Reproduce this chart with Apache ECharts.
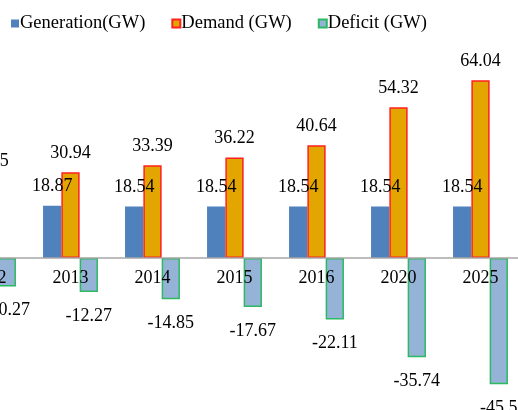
<!DOCTYPE html>
<html>
<head>
<meta charset="utf-8">
<style>
  html, body { margin: 0; padding: 0; background: #fff; }
  #chart { width: 518px; height: 410px; }
</style>
<script src="https://cdn.jsdelivr.net/npm/echarts@6/dist/echarts.min.js"></script>
</head>
<body>
<div id="chart"></div>
<script>
// Power generation vs. demand, with the resulting deficit (GW)
const categories = ['2012', '2013', '2014', '2015', '2016', '2020', '2025'];
const generation = [17.58, 18.87, 18.54, 18.54, 18.54, 18.54, 18.54];
const demand = [27.85, 30.94, 33.39, 36.22, 40.64, 54.32, 64.04];
const deficit = [-10.27, -12.27, -14.85, -17.67, -22.11, -35.74, -45.5];

const serif = "'Liberation Serif', 'Times New Roman', serif";
const labelText = { fontFamily: serif, fontSize: 18, color: '#000' };

// value range and plot box; the category axis sits on the zero line
const yMin = -50;
const yMax = 80;
const gridTop = 36;
const gridBottom = 13.2;
const plotHeight = 410 - gridTop - gridBottom;
const zeroFromBottom = plotHeight * (0 - yMin) / (yMax - yMin);

const chart = echarts.init(document.getElementById('chart'), null, { renderer: 'canvas' });

chart.setOption({
  animation: false,
  backgroundColor: '#fff',
  textStyle: { fontFamily: serif },
  legend: {
    left: 6,
    top: 9,
    itemWidth: 8,
    itemHeight: 8,
    itemGap: 26,
    icon: 'rect',
    textStyle: { fontFamily: serif, fontSize: 18.5, color: '#000', padding: [0, 0, 0, -4] },
    data: ['Generation(GW)', 'Demand (GW)', 'Deficit (GW)']
  },
  grid: {
    left: -52.5,
    right: -3.5,
    top: gridTop,
    bottom: gridBottom,
    containLabel: false,
    outerBoundsMode: 'none'
  },
  xAxis: {
    type: 'category',
    data: categories,
    position: 'bottom',
    offset: -zeroFromBottom,
    z: 5,
    axisLine: { show: true, onZero: false, lineStyle: { color: '#A6A6A6', width: 1.5 } },
    axisTick: { show: false },
    axisLabel: { fontFamily: serif, fontSize: 18, color: '#000', margin: 11, interval: 0 },
    splitLine: { show: false }
  },
  yAxis: {
    type: 'value',
    min: yMin,
    max: yMax,
    axisLine: { show: false },
    axisTick: { show: false },
    axisLabel: { show: false },
    splitLine: { show: false }
  },
  series: [
    {
      name: 'Generation(GW)',
      type: 'bar',
      data: generation,
      barWidth: 18.3,
      barGap: '0%',
      itemStyle: { color: '#4F81BD' },
      label: { show: true, position: 'top', distance: 10, ...labelText }
    },
    {
      name: 'Demand (GW)',
      type: 'bar',
      data: demand,
      barWidth: 18.3,
      barGap: '0%',
      itemStyle: { color: '#E3A600', borderColor: '#FF2020', borderWidth: 1.5 },
      label: { show: true, position: 'top', distance: 10, ...labelText }
    },
    {
      name: 'Deficit (GW)',
      type: 'bar',
      data: deficit,
      barWidth: 18.3,
      barGap: '0%',
      itemStyle: { color: '#95B3D7', borderColor: '#2DB862', borderWidth: 1.5 },
      label: { show: true, position: 'bottom', distance: 15, ...labelText }
    }
  ]
});
</script>
</body>
</html>
